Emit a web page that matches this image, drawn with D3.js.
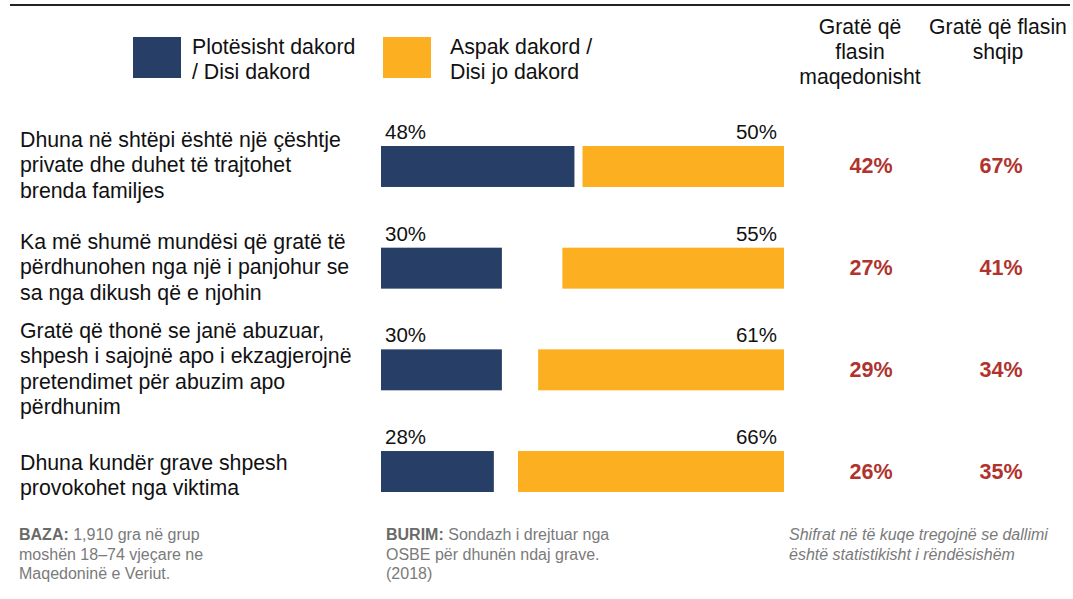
<!DOCTYPE html>
<html>
<head>
<meta charset="utf-8">
<script src="https://cdn.jsdelivr.net/npm/d3@7"></script>
<style>
  body { margin: 0; background: #fff; }
  svg { display: block; font-family: "Liberation Sans", Arial, sans-serif; }
</style>
</head>
<body>
<script>
const questions = [
  ["Dhuna në shtëpi është një çështje", "private dhe duhet të trajtohet", "brenda familjes"],
  ["Ka më shumë mundësi që gratë të", "përdhunohen nga një i panjohur se", "sa nga dikush që e njohin"],
  ["Gratë që thonë se janë abuzuar,", "shpesh i sajojnë apo i ekzagjerojnë", "pretendimet për abuzim apo", "përdhunim"],
  ["Dhuna kundër grave shpesh", "provokohet nga viktima"]
];
const agree = [48, 30, 30, 28];
const disagree = [50, 55, 61, 66];
const macedonianSpeakers = [42, 27, 29, 26];
const albanianSpeakers = [67, 41, 34, 35];
const legendLabels = [["Plotësisht dakord", "/ Disi dakord"], ["Aspak dakord /", "Disi jo dakord"]];
const columnHeads = [["Gratë që", "flasin", "maqedonisht"], ["Gratë që flasin", "shqip"]];

const W = 1073, H = 599;
const BLUE = "#273f66", ORANGE = "#fbaf21", RED = "#b0332e";

const svg = d3.select("body").append("svg")
  .attr("width", W)
  .attr("height", H);

// top rule
svg.append("line")
  .attr("x1", 10).attr("x2", 1070)
  .attr("y1", 5).attr("y2", 5)
  .attr("stroke", "#222").attr("stroke-width", 2);

const x = d3.scaleLinear().domain([0, 100]).range([381, 784]);
const y = d3.scaleBand()
  .domain(d3.range(questions.length))
  .range([146, 492])
  .paddingInner(0.597);

// legend
const legend = svg.append("g");
[{x: 133, color: BLUE}, {x: 383, color: ORANGE}].forEach(function(d, i){
  legend.append("rect")
    .attr("x", d.x).attr("y", 37)
    .attr("width", 48).attr("height", 41)
    .attr("fill", d.color);
  const tx = d.x + (i === 0 ? 59 : 67);
  const t = legend.append("text")
    .attr("font-size", 21.3)
    .attr("fill", "#111");
  legendLabels[i].forEach(function(l, j){
    t.append("tspan").attr("x", tx).attr("y", 54 + j * 25).text(l);
  });
});

// column headers
const colX = [860, 998];
const valX = [871, 1001];
columnHeads.forEach(function(lines, i){
  const t = svg.append("text")
    .attr("text-anchor", "middle")
    .attr("font-size", 21.2)
    .attr("fill", "#111");
  lines.forEach(function(l, j){
    t.append("tspan").attr("x", colX[i]).attr("y", 34 + j * 25).text(l);
  });
});

const rows = svg.selectAll(".row")
  .data(questions)
  .enter()
  .append("g")
  .classed("row", true);

// question labels (last one sits a little lower in the original)
const labelShift = [0, 0, 0, 5];
rows.append("text")
  .attr("font-size", 21.3)
  .attr("fill", "#111")
  .each(function(lines, i){
    const mid = y(i) + y.bandwidth() / 2;
    const top = mid - (lines.length - 1) * 25.5 / 2 + 6 + labelShift[i];
    d3.select(this).selectAll("tspan")
      .data(lines)
      .enter()
      .append("tspan")
      .attr("x", 20)
      .attr("y", function(l, j){ return top + j * 25.5; })
      .text(function(l){ return l; });
  });

// agree bars
rows.append("rect")
  .attr("x", x(0))
  .attr("y", function(d, i){ return y(i); })
  .attr("width", function(d, i){ return x(agree[i]) - x(0); })
  .attr("height", y.bandwidth())
  .attr("fill", BLUE);

rows.append("text")
  .attr("x", x(0) + 4)
  .attr("y", function(d, i){ return y(i) - 7; })
  .attr("font-size", 20.5)
  .attr("fill", "#111")
  .text(function(d, i){ return agree[i] + "%"; });

// disagree bars
rows.append("rect")
  .attr("x", function(d, i){ return x(100 - disagree[i]); })
  .attr("y", function(d, i){ return y(i); })
  .attr("width", function(d, i){ return x(100) - x(100 - disagree[i]); })
  .attr("height", y.bandwidth())
  .attr("fill", ORANGE);

rows.append("text")
  .attr("x", x(100) - 7)
  .attr("y", function(d, i){ return y(i) - 7; })
  .attr("text-anchor", "end")
  .attr("font-size", 20.5)
  .attr("fill", "#111")
  .text(function(d, i){ return disagree[i] + "%"; });

// significant differences
[macedonianSpeakers, albanianSpeakers].forEach(function(vals, c){
  rows.append("text")
    .attr("x", valX[c])
    .attr("y", function(d, i){ return y(i) + y.bandwidth() / 2 + 7; })
    .attr("text-anchor", "middle")
    .attr("font-size", 21.5)
    .attr("font-weight", "bold")
    .attr("fill", RED)
    .text(function(d, i){ return vals[i] + "%"; });
});

// footer notes
function note(xPos, bold, lines, italic){
  const t = svg.append("text")
    .attr("font-size", 16)
    .attr("fill", "#7a7a7a")
    .attr("font-style", italic ? "italic" : null);
  lines.forEach(function(l, j){
    const ts = t.append("tspan").attr("x", xPos).attr("y", 540 + j * 19.5);
    if (j === 0 && bold) {
      ts.append("tspan").attr("font-weight", "bold").attr("fill", "#6a6a6a").text(bold);
    }
    ts.append("tspan").text(l);
  });
}
note(19, "BAZA: ", ["1,910 gra në grup", "moshën 18–74 vjeçare ne", "Maqedoninë e Veriut."]);
note(386, "BURIM: ", ["Sondazh i  drejtuar nga", "OSBE për dhunën ndaj grave.", "(2018)"]);
note(789, null, ["Shifrat në të kuqe tregojnë se dallimi", "është statistikisht i rëndësishëm"], true);
</script>
</body>
</html>
